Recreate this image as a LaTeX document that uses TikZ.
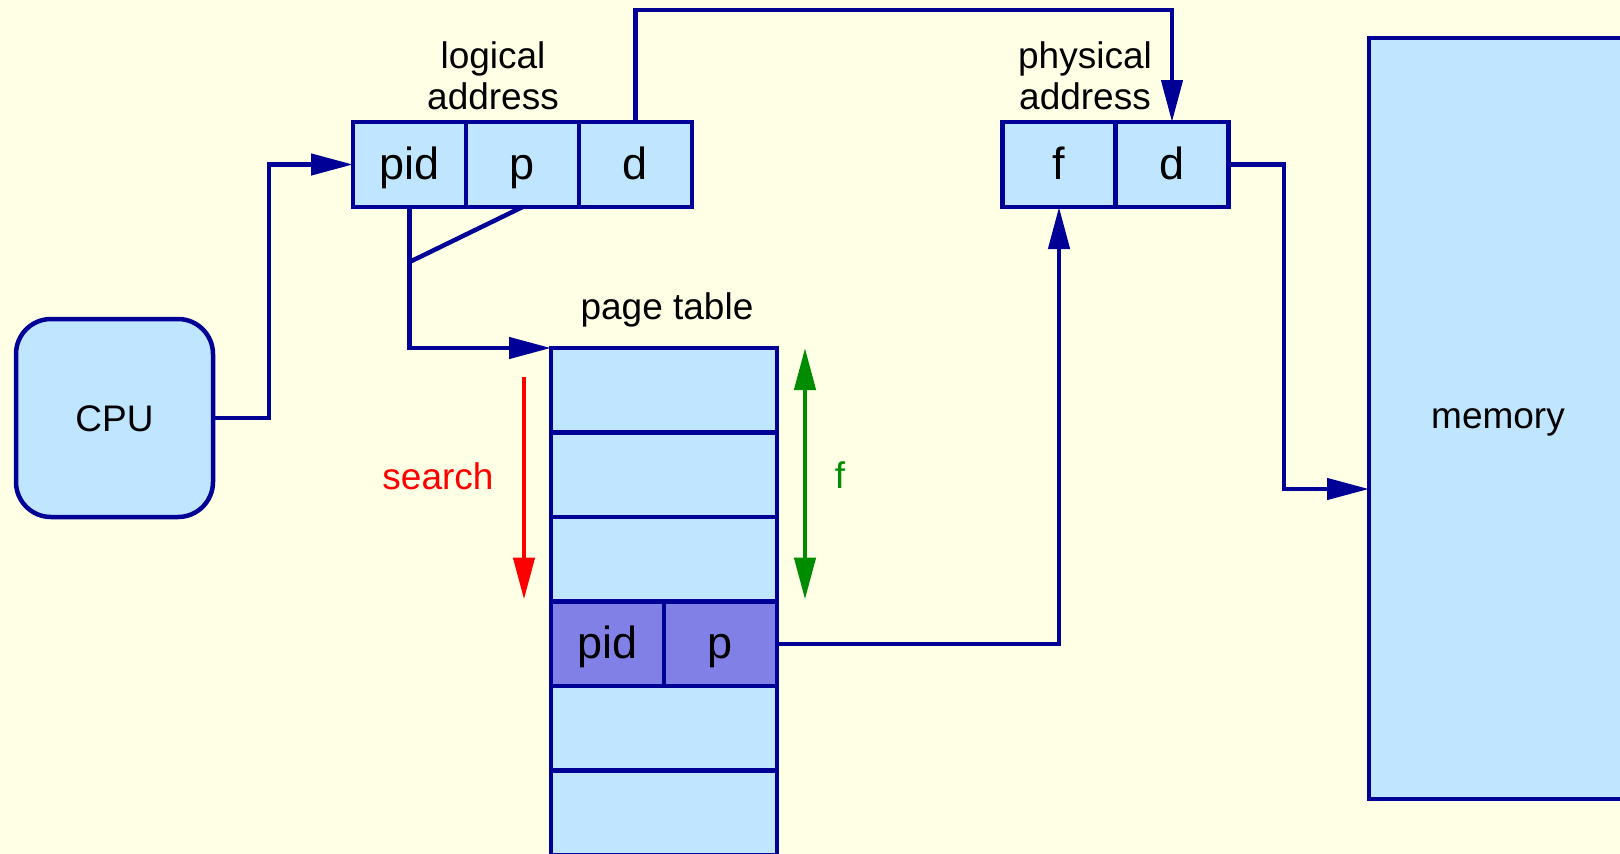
\documentclass[tikz,border=0pt]{standalone}
\usepackage{fontspec}
\setmainfont{Liberation Sans}
\usetikzlibrary{positioning,arrows.meta}

\definecolor{bgyellow}{RGB}{255,255,230}
\definecolor{cellblue}{RGB}{192,230,255}
\definecolor{navy}{RGB}{0,0,150}
\definecolor{hitblue}{RGB}{128,128,230}
\definecolor{searchred}{RGB}{255,0,0}
\definecolor{fgreen}{RGB}{0,140,0}

\begin{document}
\begin{tikzpicture}[x=1pt,y=-1pt]

\def\cellw{113pt}
\def\cellh{85pt}
\def\rowh{84.5pt}
\def\lw{4.5pt}

\tikzset{txt/.style = {font=\fontsize{37pt}{41pt}\selectfont}}
\tikzset{lbl/.style = {txt, align=center, inner sep=0pt}}
\tikzset{box/.style = {draw=navy, line width=\lw, fill=cellblue, inner sep=0pt, outer sep=0pt}}
\tikzset{cell/.style = {box, minimum width=\cellw, minimum height=\cellh, text height=32pt, text depth=2pt, font=\fontsize{45pt}{54pt}\selectfont}}
\tikzset{row/.style = {box, minimum width=226pt, minimum height=\rowh}}
\tikzset{hit/.style = {cell, fill=hitblue, minimum height=\rowh}}
\tikzset{line/.style = {color=navy, line width=\lw}}
\tikzset{arr/.style = {line, -{Triangle[length=42pt,width=21pt]}}}
\tikzset{searcharr/.style = {color=searchred, line width=\lw, -{Triangle[length=42pt,width=21pt]}}}
\tikzset{farr/.style = {color=fgreen, line width=\lw, {Triangle[length=42pt,width=21pt]}-{Triangle[length=42pt,width=21pt]}}}

\useasboundingbox (0,0) rectangle (1620,854);
\fill[bgyellow] (0,0) rectangle (1620,854);

% cpu and memory
\node[box, txt, rounded corners=35pt, minimum width=197pt, minimum height=198pt, text height=27pt, text depth=-3pt] (cpu) at (114.5,418) {CPU};
\node[box, txt, text depth=0pt, minimum width=258pt, minimum height=761pt] (mem) at (1498,418.5) {memory};

% logical address
\node[cell] (lpid) at (409.5,164.5) {pid};
\node[cell, right=0pt of lpid] (lp) {p};
\node[cell, right=0pt of lp] (ld) {d};
\node[lbl] (logical) at (493,75.5) {logical\\address};

% physical address
\node[cell] (pf) at (1059,164.5) {f};
\node[cell, right=0pt of pf] (pd) {d};
\node[lbl] (physical) at (1085,75.5) {physical\\address};

% page table
\node[lbl] (ptable) at (667,310) {page table};
\node[row] (row1) at (664,390.25) {};
\node[row, below=0pt of row1] (row2) {};
\node[row, below=0pt of row2] (row3) {};
\node[hit, below right=0pt and 0pt of row3.south west] (ppid) {pid};
\node[hit, right=0pt of ppid] (pp) {p};
\node[row, below=0pt of ppid.south east] (row5) {};
\node[row, below=0pt of row5] (row6) {};

% search and f
\coordinate (s1) at ([xshift=-27pt,yshift=-29pt]row1.north west);
\coordinate (s2) at ([xshift=-27pt,yshift=2pt]row3.south west);
\draw[searcharr] (s1) -- (s2);
\node[lbl, text=searchred] (search) at (438,476) {search};

\coordinate (f1) at ([xshift=28pt]row1.north east);
\coordinate (f2) at ([xshift=28pt,yshift=2pt]row3.south east);
\draw[farr] (f1) -- (f2);
\node[lbl, text=fgreen] (flabel) at (840,475) {f};

% connectors
\draw[arr] (cpu.east) -- ++(56,0) |- (lpid.west);
\draw[arr] (ld.north) -- ++(0,-112) -| (pd.north);
\draw[arr] (lpid.south) |- (row1.north west);
\coordinate (merge) at ([yshift=-55pt]lpid.south);
\draw[line] (lp.south) -- (merge);
\draw[arr] (pp.east) -| (pf.south);
\draw[arr] (pd.east) -- ++(55.5,0) |- ([yshift=-70.5pt]mem.west);

\end{tikzpicture}
\end{document}
